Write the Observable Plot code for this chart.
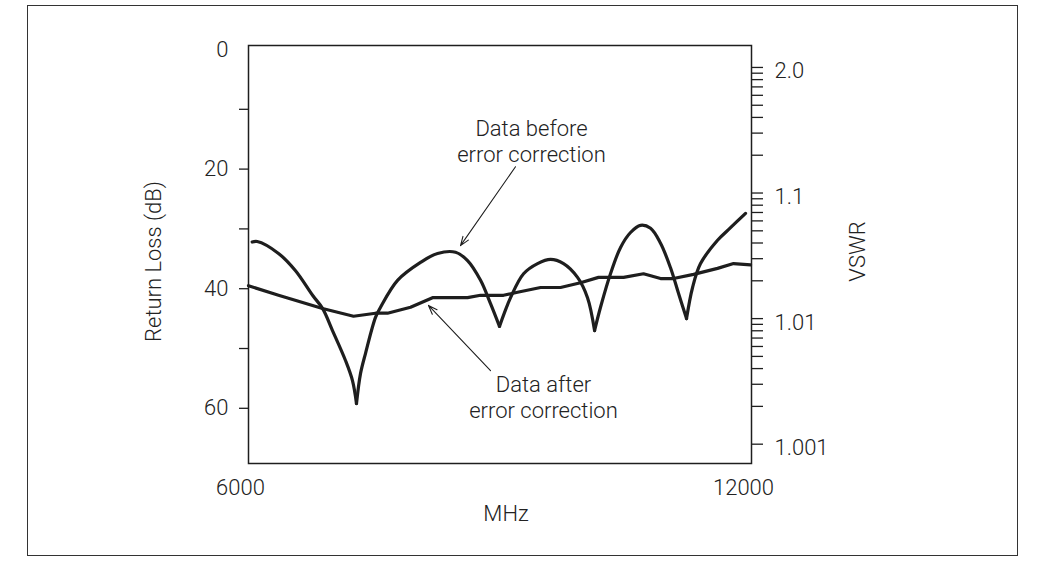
<!DOCTYPE html>
<html>
<head>
<meta charset="utf-8">
<script src="https://cdn.jsdelivr.net/npm/d3@7"></script>
<script src="https://cdn.jsdelivr.net/npm/@observablehq/plot@0.6"></script>
<style>
  html, body { margin: 0; padding: 0; background: #fff; }
  #wrap { position: relative; width: 1046px; height: 562px; }
  #border { position: absolute; left: 27px; top: 5px; width: 989px; height: 549px; border: 1px solid #333; pointer-events: none; }
  #chart svg { font-family: Roboto, "Liberation Sans", sans-serif; font-weight: 300; color: #222; }
</style>
</head>
<body>
<div id="wrap"><div id="border"></div><div id="chart"></div></div>
<script>
// Data before error correction (frequency MHz, return loss dB)
const freqBefore = [6044, 6104, 6358, 6561, 6764, 6883, 7002, 7157, 7241, 7288, 7336, 7396, 7515, 7575, 7778, 8052, 8255, 8470, 8613, 8768, 8887, 8994, 9126, 9281, 9448, 9603, 9758, 9925, 10044, 10128, 10199, 10318, 10438, 10557, 10676, 10796, 10915, 11034, 11130, 11225, 11297, 11392, 11595, 11750, 11929];
const rlBefore   = [32.2, 32.1, 34.1, 37.0, 41.1, 43.3, 47.0, 52.0, 55.4, 59.2, 54.2, 50.8, 44.8, 43.1, 38.6, 35.6, 34.1, 33.9, 35.3, 38.6, 42.5, 46.3, 41.5, 37.5, 35.8, 35.1, 35.8, 38.1, 41.5, 47.0, 43.1, 37.5, 33.1, 30.6, 29.4, 29.9, 32.4, 36.5, 40.8, 45.0, 39.8, 35.8, 31.9, 29.8, 27.4];

// Data after error correction
const freqAfter = [6000, 6358, 6883, 7253, 7515, 7658, 7933, 8195, 8613, 8768, 9042, 9209, 9484, 9722, 9961, 10175, 10474, 10712, 10915, 11070, 11309, 11595, 11786, 11989];
const rlAfter   = [39.5, 41.1, 43.3, 44.6, 44.1, 44.1, 43.1, 41.5, 41.5, 41.1, 41.1, 40.6, 39.8, 39.8, 39.0, 38.1, 38.1, 37.5, 38.3, 38.3, 37.6, 36.6, 35.8, 36.0];

// Axis ticks
const rlTicks = [10, 20, 30, 40, 50, 60];
const rlTickLabels = [0, 20, 40, 60];
const freqTickLabels = [6000, 12000];
const vswrTicks = [2.0, 1.9, 1.8, 1.7, 1.6, 1.5, 1.4, 1.3, 1.2,
                   1.1, 1.09, 1.08, 1.07, 1.06, 1.05, 1.04, 1.03, 1.02,
                   1.01, 1.009, 1.008, 1.007, 1.006, 1.005, 1.004, 1.003, 1.002,
                   1.001];
const vswrMajor = [2.0, 1.1, 1.01, 1.001];
const vswrMajorLabels = ["2.0", "1.1", "1.01", "1.001"];

// Annotations
const annotations = [
  {text: "Data before\nerror correction", x: 9376, y: 15.2},
  {text: "Data after\nerror correction", x: 9519, y: 58.0}
];
const arrows = [
  {x1: 9185, y1: 19.6, x2: 8529, y2: 32.8},
  {x1: 8887, y1: 53.7, x2: 8147, y2: 42.8}
];

// VSWR scale as drawn on the right side, expressed in the return-loss units of the left scale
const vswrToRL = v => 3.0 - 21.0 * Math.log10(v - 1);

// Split the "before" trace into arches at its sharp nulls so each arch is smooth and each null stays a cusp
const before = [];
let seg = 0;
freqBefore.forEach((f, i) => {
  before.push({f, rl: rlBefore[i], seg});
  const isNull = i > 0 && i < rlBefore.length - 1 && rlBefore[i] > rlBefore[i - 1] && rlBefore[i] > rlBefore[i + 1];
  if (isNull) { seg++; before.push({f, rl: rlBefore[i], seg}); }
});
const after = freqAfter.map((f, i) => ({f, rl: rlAfter[i]}));

const ink = "#1e1e1e";
const fs = 22;
const chart = Plot.plot({
  width: 1046,
  height: 562,
  marginLeft: 248,
  marginRight: 295,
  marginTop: 45,
  marginBottom: 99,
  style: {fontSize: fs + "px", background: "transparent"},
  x: {domain: [6000, 12000], axis: null},
  y: {domain: [-0.67, 69.23], reverse: true, axis: null},
  marks: [
    Plot.frame({stroke: ink, strokeWidth: 1.5}),
    // left axis
    Plot.axisY({anchor: "left", ticks: rlTicks, tickSize: 9, tickFormat: () => "", stroke: ink, strokeWidth: 1.3}),
    Plot.axisY({anchor: "left", ticks: rlTickLabels, tickSize: 0, tickPadding: 20, fontSize: fs, fill: "#222"}),
    // right VSWR axis
    Plot.axisY({anchor: "right", ticks: vswrTicks.map(vswrToRL), tickSize: 11, tickFormat: () => "", stroke: ink, strokeWidth: 1.3}),
    Plot.text(vswrMajor, {frameAnchor: "right", y: d => vswrToRL(d), text: (d, i) => vswrMajorLabels[i], dx: 23, dy: 4, textAnchor: "start", fontSize: fs, fill: "#222"}),
    // bottom axis
    Plot.axisX({ticks: freqTickLabels, tickSize: 0, tickPadding: 16, tickFormat: d => `${d}`, dx: -8, fontSize: fs, fill: "#222"}),
    // axis titles
    Plot.text(["MHz"], {frameAnchor: "bottom", dx: 6, dy: 57, fontSize: fs, fill: "#222"}),
    Plot.text(["Return Loss (dB)"], {frameAnchor: "left", textAnchor: "middle", dx: -95, dy: 7, rotate: -90, fontSize: fs, fill: "#222"}),
    Plot.text(["VSWR"], {frameAnchor: "right", textAnchor: "middle", dx: 106, dy: -3, rotate: -90, fontSize: fs, fill: "#222"}),
    // curves
    Plot.line(before, {x: "f", y: "rl", z: "seg", curve: "catmull-rom", stroke: ink, strokeWidth: 3.2, strokeLinejoin: "round", strokeLinecap: "round"}),
    Plot.line(after, {x: "f", y: "rl", stroke: ink, strokeWidth: 3.2, strokeLinejoin: "round", strokeLinecap: "round"}),
    // annotations
    Plot.arrow(arrows, {x1: "x1", y1: "y1", x2: "x2", y2: "y2", stroke: ink, strokeWidth: 1.1, headLength: 13, headAngle: 40}),
    Plot.text(annotations, {x: "x", y: "y", text: "text", fontSize: fs, lineHeight: 1.2, fill: "#222"})
  ]
});
document.getElementById("chart").appendChild(chart);
</script>
</body>
</html>
